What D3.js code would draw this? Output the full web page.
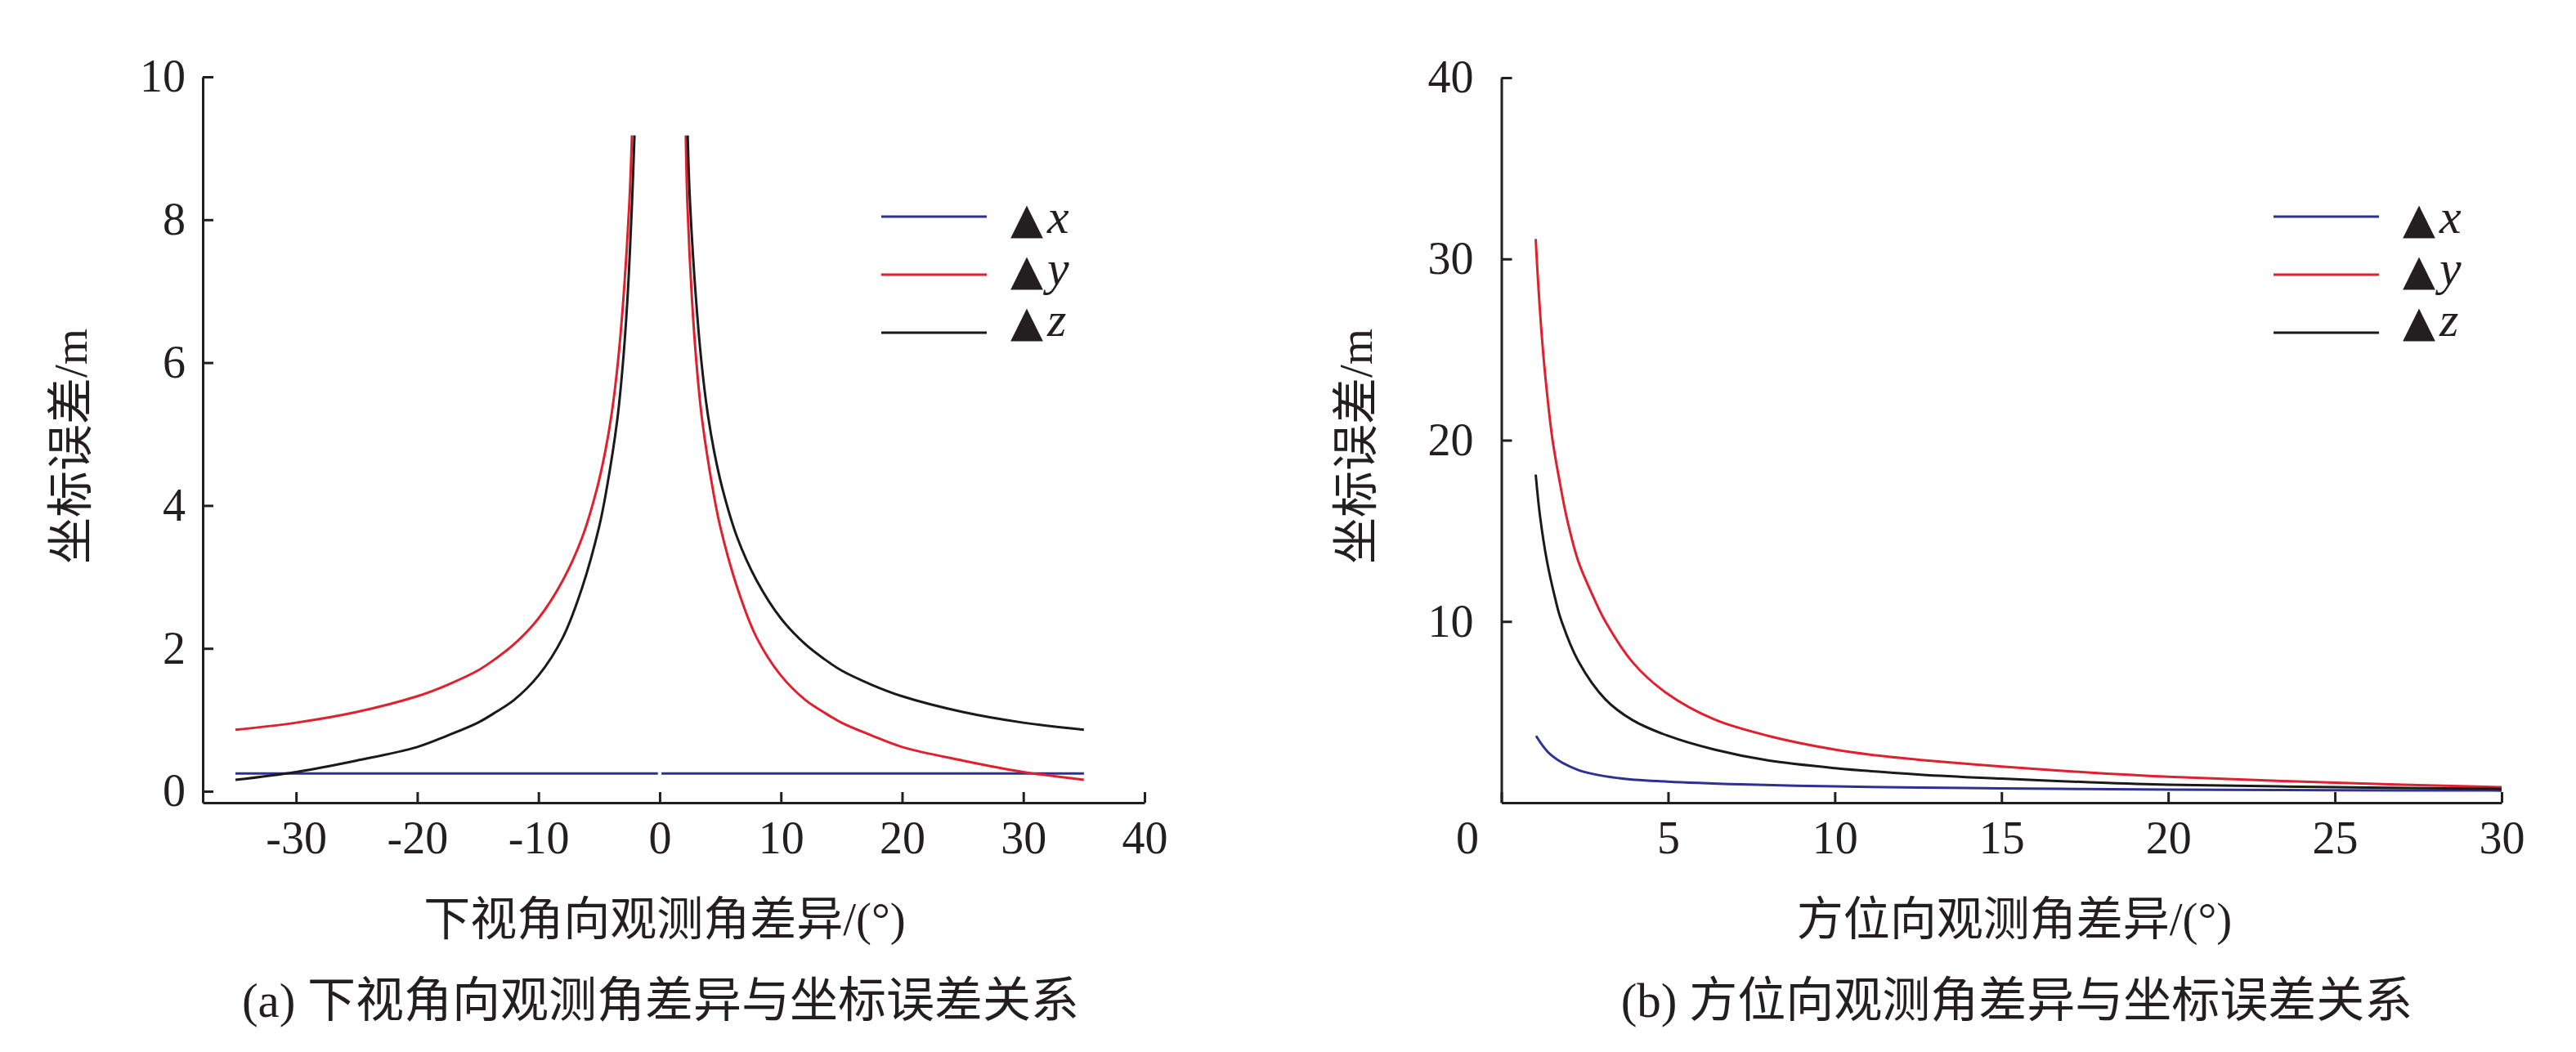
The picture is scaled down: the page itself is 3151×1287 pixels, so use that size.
<!DOCTYPE html>
<html>
<head>
    <meta charset="utf-8">
    <style>
        body { margin: 0; background: #fff; }
    </style>
</head>
<body>
    <svg width="3151" height="1287"></svg>
    <script src="https://d3js.org/d3.v7.min.js"></script>
    <script>
        // (a) 下视角向观测角差异 -> 坐标误差
        const aBlueX = [-35, -0.15, 0, 0.15, 35];
        const aBlueY = [0.25, 0.25, null, 0.25, 0.25];
        const aRedX = [-35, -30, -25, -20, -17.5, -15, -13.5, -12, -10, -8, -6.4, -5.2, -4.5, -3.95, -3.45, -3.0, -2.5, -2.29, 0,
                       2.15, 2.28, 2.65, 3.05, 3.5, 4.4, 5, 6.4, 8, 10, 12, 13.5, 15, 17.5, 20, 25, 30, 35];
        const aRedY = [0.86, 0.96, 1.11, 1.33, 1.49, 1.69, 1.86, 2.06, 2.42, 2.95, 3.55, 4.22, 4.75, 5.3, 6.0, 6.88, 8.25, 9.18, null,
                       9.18, 8.25, 6.92, 5.96, 5.2, 4.21, 3.7, 2.85, 2.15, 1.62, 1.28, 1.11, 0.96, 0.78, 0.62, 0.43, 0.27, 0.16];
        const aBlackX = [-35, -30, -25, -20, -17.5, -15, -13.5, -12, -10, -8, -6.4, -5, -4.4, -3.5, -3.05, -2.65, -2.28, -2.08, 0,
                         2.31, 2.5, 3.0, 3.45, 3.95, 4.5, 5.2, 6.4, 8, 10, 12, 13.5, 15, 17.5, 20, 25, 30, 35];
        const aBlackY = [0.16, 0.27, 0.43, 0.62, 0.78, 0.96, 1.11, 1.28, 1.62, 2.15, 2.85, 3.7, 4.21, 5.2, 5.96, 6.92, 8.25, 9.18, null,
                         9.18, 8.25, 6.88, 6.0, 5.3, 4.75, 4.22, 3.55, 2.95, 2.42, 2.06, 1.86, 1.69, 1.49, 1.33, 1.11, 0.96, 0.86];
        const aXTicks = [-30, -20, -10, 0, 10, 20, 30, 40];
        const aYTicks = [0, 2, 4, 6, 8, 10];

        // (b) 方位向观测角差异 -> 坐标误差
        const bBlueX = [1.04, 1.49, 2.31, 3.53, 5, 7.2, 10, 12.58, 15, 17.5, 20, 25, 30];
        const bBlueY = [3.69, 2.63, 1.80, 1.35, 1.16, 1.01, 0.90, 0.83, 0.79, 0.75, 0.72, 0.69, 0.67];
        const bRedX = [1.03, 1.08, 1.21, 1.33, 1.53, 1.74, 1.98, 2.31, 2.76, 3.12, 3.94, 4.92, 6.39, 8, 10,
                       11.28, 12.58, 15, 17.5, 20, 25, 30];
        const bRedY = [31.1, 29.4, 25.8, 23.3, 20.07, 17.8, 15.56, 13.3, 11.35, 10.0, 7.74, 6.09, 4.59, 3.69, 2.93,
                       2.6, 2.36, 2.0, 1.68, 1.43, 1.10, 0.86];
        const bBlackX = [1.03, 1.16, 1.37, 1.61, 1.78, 2.31, 3.12, 3.94, 5, 6.39, 8, 10, 12.58, 15, 17.5, 20, 25, 30];
        const bBlackY = [18.1, 15.8, 13.3, 11.3, 10.15, 7.8, 5.7, 4.55, 3.69, 2.93, 2.33, 1.91, 1.55, 1.33, 1.14,
                         0.99, 0.86, 0.76];
        const bXTicks = [0, 5, 10, 15, 20, 25, 30];
        const bYTicks = [10, 20, 30, 40];

        const legendNames = ["x", "y", "z"];
        const colors = ["#2e3192", "#e0202e", "#1a1a1a"];
        const ink = "#231f20";
        const latin = "'Liberation Serif', 'Noto Sans CJK SC', serif";
        const cjk = "'Liberation Serif', 'Noto Sans CJK SC', sans-serif";

        const svg = d3.select("svg");
        const zip = (xs, ys) => xs.map((x, i) => ({x: x, y: ys[i]}));

        function panel(opt) {
            const x = d3.scaleLinear().domain(opt.xDomain).range(opt.xRange);
            const y = d3.scaleLinear().domain(opt.yDomain).range(opt.yRange);
            const fmt = d => String(d);   // plain hyphen for negatives, as in the original

            const xAxis = svg.append("g")
                .attr("transform", `translate(0,${opt.yRange[0]})`)
                .call(d3.axisBottom(x).tickValues(opt.xTicks).tickFormat(fmt)
                    .tickSize(-13).tickSizeOuter(0).tickPadding(22));
            const yAxis = svg.append("g")
                .attr("transform", `translate(${opt.xRange[0]},0)`)
                .call(d3.axisLeft(y).tickValues(opt.yTicks).tickFormat(fmt)
                    .tickSize(-13).tickSizeOuter(0).tickPadding(opt.yPad));
            [xAxis, yAxis].forEach(g => {
                g.attr("color", ink).attr("font-family", latin).attr("font-size", 56);
                g.selectAll("path, line").attr("stroke-width", 3);
            });
            if (opt.zeroShift) {
                xAxis.selectAll(".tick").filter(d => d === 0).select("text").attr("x", opt.zeroShift);
            }

            const line = d3.line()
                .defined(d => d.y != null)
                .x(d => x(d.x))
                .y(d => y(d.y))
                .curve(d3.curveCatmullRom.alpha(0.5));
            opt.series.forEach((s, i) => {
                svg.append("path")
                    .datum(s)
                    .attr("fill", "none")
                    .attr("stroke", colors[i])
                    .attr("stroke-width", 3)
                    .attr("d", line);
            });

            // legend
            const lineY = [265, 336, 407];
            const textY = [285, 348, 411];
            legendNames.forEach((n, i) => {
                svg.append("line")
                    .attr("x1", opt.legendX).attr("x2", opt.legendX + 129)
                    .attr("y1", lineY[i]).attr("y2", lineY[i])
                    .attr("stroke", colors[i]).attr("stroke-width", 3);
                const t = svg.append("text")
                    .attr("x", opt.legendX + 158).attr("y", textY[i])
                    .attr("fill", ink);
                t.append("tspan").attr("font-family", "'DejaVu Sans'").attr("font-size", 52).text("▲");
                t.append("tspan").attr("font-family", latin).attr("font-style", "italic")
                    .attr("font-size", 60).attr("dx", 5).text(n);
            });

            svg.append("text")
                .attr("transform", `translate(${opt.yTitleX},546) rotate(-90)`)
                .attr("text-anchor", "middle").attr("dominant-baseline", "central")
                .attr("font-family", cjk).attr("font-size", 57).attr("fill", ink)
                .text("坐标误差/m");
            svg.append("text")
                .attr("x", opt.xTitleX).attr("y", 1124)
                .attr("text-anchor", "middle").attr("dominant-baseline", "central")
                .attr("font-family", cjk).attr("font-size", 57).attr("fill", ink)
                .text(opt.xTitle);
            svg.append("text")
                .attr("x", opt.captionX).attr("y", 1224)
                .attr("text-anchor", "middle").attr("dominant-baseline", "central")
                .attr("font-family", cjk).attr("font-size", 59).attr("fill", ink)
                .text(opt.caption);
        }

        panel({
            xDomain: [-37.7, 40], xRange: [248, 1400],
            yDomain: [-0.16, 10], yRange: [982, 94],
            xTicks: aXTicks, yTicks: aYTicks, yPad: 21,
            series: [zip(aBlueX, aBlueY), zip(aRedX, aRedY), zip(aBlackX, aBlackY)],
            legendX: 1078, yTitleX: 86, xTitleX: 813, captionX: 808,
            xTitle: "下视角向观测角差异/(°)",
            caption: "(a) 下视角向观测角差异与坐标误差关系"
        });

        panel({
            xDomain: [0, 30], xRange: [1836.5, 3060],
            yDomain: [0, 40], yRange: [982, 95],
            xTicks: bXTicks, yTicks: bYTicks, yPad: 34, zeroShift: -42,
            series: [zip(bBlueX, bBlueY), zip(bRedX, bRedY), zip(bBlackX, bBlackY)],
            legendX: 2781, yTitleX: 1658, xTitleX: 2464, captionX: 2467,
            xTitle: "方位向观测角差异/(°)",
            caption: "(b) 方位向观测角差异与坐标误差关系"
        });
    </script>
</body>
</html>
